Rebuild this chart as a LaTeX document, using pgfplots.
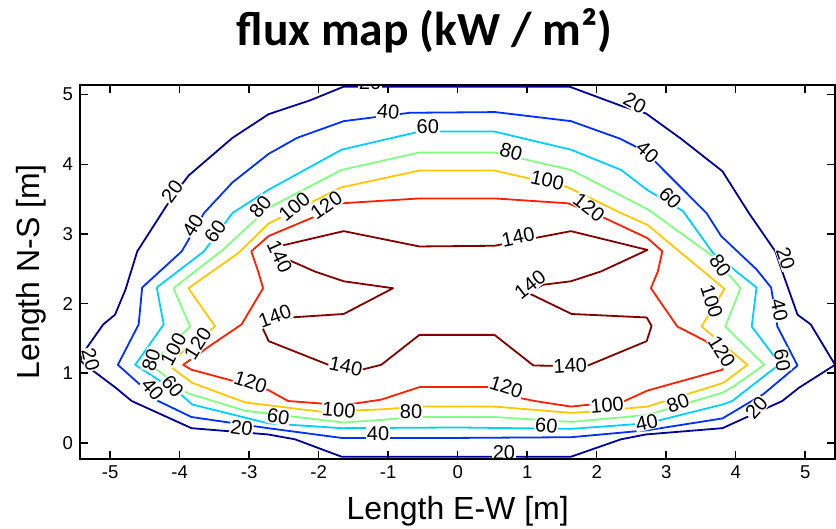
\documentclass[border=0pt]{standalone}
\usepackage{fontspec}
\setmainfont{Liberation Sans}
\newfontfamily\titlefont{Carlito}
\usepackage{pgfplots}
\pgfplotsset{compat=1.18}

% jet-style colours for the contour levels
\definecolor{c20}{RGB}{0,0,150}
\definecolor{c40}{RGB}{0,48,255}
\definecolor{c60}{RGB}{0,208,255}
\definecolor{c80}{RGB}{128,255,128}
\definecolor{c100}{RGB}{255,200,0}
\definecolor{c120}{RGB}{255,32,0}
\definecolor{c140}{RGB}{128,0,0}

\pgfplotsset{lvl/.style={line width=0.9pt, line join=round, no markers}}
\tikzset{lbl/.style={fill=white, inner sep=0.3pt, font=\fontsize{10}{10}\selectfont}}

\begin{document}
\begin{tikzpicture}
\begin{axis}[
  name=ax,
  scale only axis,
  width=378pt, height=187pt,
  xmin=-5.435, xmax=5.435,
  ymin=-0.228, ymax=5.14,
  xtick={-5,-4,-3,-2,-1,0,1,2,3,4,5},
  xticklabels={-5,-4,-3,-2,-1,0,1,2,3,4,5},
  ytick={0,1,2,3,4,5},
  yticklabels={0,1,2,3,4,5},
  tick label style={font=\fontsize{9.3}{10}\selectfont},
  major tick length=4pt,
  axis line style={line width=1.15pt},
  every tick/.style={black, line width=0.8pt},
  axis on top,
  every axis title shift=0pt,
  title={\titlefont\bfseries flux map (kW / m²)},
  title style={at={(0.456,1)}, anchor=base, yshift=19.5pt,
               font=\fontsize{23.8}{26}\selectfont},
  xlabel={Length E-W [m]},
  xlabel style={at={(0.5,0)}, anchor=base, yshift=-30.5pt,
                font=\fontsize{16}{18}\selectfont},
  ylabel={Length N-S [m]},
  ylabel style={at={(-0.0529,0.5)}, anchor=base,
                font=\fontsize{16}{18}\selectfont},
]

% level 20
\addplot[lvl, c20] coordinates {
 (-5.43,1.18) (-5.34,1.36) (-5.10,1.70) (-4.93,1.84) (-4.78,2.20) (-4.61,2.75)
 (-4.16,3.45) (-3.97,3.71) (-3.87,3.84) (-3.24,4.38) (-2.72,4.72) (-2.12,4.92)
 (-1.64,5.115) (1.61,5.115) (2.38,4.83) (2.71,4.73) (3.21,4.37) (3.81,3.90)
 (3.86,3.82) (4.19,3.30) (4.57,2.75) (4.67,2.46) (4.89,1.84) (5.08,1.70)
 (5.43,1.12) (4.91,0.79) (4.67,0.60) (3.81,0.21) (2.71,0.12) (2.35,0.05)
 (1.63,-0.20) (-1.67,-0.20) (-2.34,0.05) (-2.73,0.12) (-3.83,0.21) (-4.69,0.60)
 (-4.92,0.79) (-5.28,1.06) (-5.43,1.18)};

% level 40
\addplot[lvl, c40] coordinates {
 (-4.54,2.23) (-4.59,1.70) (-4.89,1.12) (-4.52,0.79) (-4.35,0.62) (-3.83,0.37)
 (-2.73,0.21) (-1.67,0.07) (0,0.07) (1.63,0.08) (2.73,0.18) (3.81,0.35)
 (4.40,0.70) (4.89,1.11) (4.60,1.67) (4.51,2.23) (4.30,2.49) (3.79,2.97)
 (3.58,3.30) (2.79,4.09) (2.55,4.26) (2.33,4.37) (1.63,4.62) (0.54,4.75)
 (-0.69,4.74) (-1.64,4.62) (-2.31,4.38) (-2.72,4.15) (-3.24,3.74) (-3.65,3.30)
 (-3.97,2.75) (-4.54,2.23)};

% level 60
\addplot[lvl, c60] coordinates {
 (-4.33,2.23) (-4.23,1.70) (-4.64,1.12) (-3.99,0.70) (-3.82,0.55) (-2.73,0.28)
 (-1.67,0.21) (0,0.22) (1.63,0.20) (2.73,0.28) (3.81,0.55) (3.95,0.60)
 (4.53,1.05) (4.64,1.13) (4.23,1.67) (4.30,2.23) (3.67,2.73) (3.24,3.33)
 (2.73,3.63) (2.35,3.92) (1.63,4.21) (0.53,4.47) (-0.55,4.47) (-1.67,4.21)
 (-2.73,3.63) (-3.24,3.30) (-3.65,2.75) (-4.33,2.23)};

% level 80
\addplot[lvl, c80] coordinates {
 (-4.09,2.22) (-3.85,1.67) (-4.42,1.12) (-3.88,0.71) (-3.06,0.46) (-1.64,0.29)
 (-0.55,0.37) (0.53,0.37) (1.63,0.30) (2.73,0.40) (3.81,0.72) (3.97,0.81)
 (4.41,1.12) (3.85,1.67) (4.07,2.22) (3.67,2.68) (2.74,3.35) (1.63,3.92)
 (0.53,4.17) (-0.55,4.17) (-1.67,3.92) (-2.73,3.37) (-3.37,2.78) (-4.09,2.22)};

% level 100
\addplot[lvl, c100] coordinates {
 (-2.72,3.15) (-1.67,3.67) (-0.55,3.91) (0.53,3.91) (1.585,3.67) (2.35,3.30)
 (2.73,3.13) (3.84,2.21) (3.51,1.67) (4.17,1.12) (3.82,0.86) (2.73,0.52)
 (1.83,0.44) (1.63,0.43) (0.53,0.52) (-0.55,0.52) (-1.10,0.48) (-1.96,0.445)
 (-3.06,0.58) (-3.82,0.86) (-4.18,1.13) (-3.49,1.67) (-3.875,2.22) (-3.15,2.73)
 (-2.72,3.15)};

% level 120
\addplot[lvl, c120] coordinates {
 (-2.97,2.75) (-2.72,2.97) (-2.10,3.23) (-1.67,3.44) (-0.55,3.51) (0.53,3.51)
 (1.585,3.44) (2.11,3.23) (2.73,2.94) (2.945,2.75) (2.88,2.46) (2.78,2.22)
 (3.16,1.67) (3.57,1.46) (3.88,1.17) (3.81,1.05) (2.73,0.75) (2.40,0.60)
 (1.63,0.52) (1.11,0.60) (0.91,0.64) (0.53,0.80) (0,0.80) (-0.55,0.80)
 (-1.10,0.62) (-1.64,0.54) (-2.44,0.60) (-2.73,0.76) (-3.20,0.88) (-3.83,1.05)
 (-3.95,1.12) (-3.54,1.41) (-3.11,1.70) (-2.80,2.22) (-2.87,2.46) (-2.97,2.75)};

% level 140
\addplot[lvl, c140] coordinates {
 (-2.54,2.83) (-1.64,3.04) (-0.55,2.82) (0.53,2.83) (1.63,3.04) (2.73,2.77)
 (2.06,2.46) (1.63,2.32) (1.23,2.27) (1.01,2.155) (1.64,1.85) (2.72,1.80)
 (2.79,1.68) (2.72,1.46) (1.85,1.10) (1.09,1.11) (0.53,1.55) (-0.55,1.55)
 (-1.10,1.12) (-1.36,1.055) (-1.86,1.12) (-2.72,1.46) (-2.82,1.68) (-2.41,1.80)
 (-1.64,1.85) (-0.93,2.22) (-1.64,2.32) (-2.055,2.46) (-2.44,2.63) (-2.54,2.83)};

% contour labels
\node[lbl, rotate=-75] at (axis cs:-5.28,1.20) {20};
\node[lbl, rotate=54]  at (axis cs:-4.11,3.61) {20};
\node[lbl]             at (axis cs:-1.26,5.17) {20};
\node[lbl, rotate=-28] at (axis cs:2.55,4.88) {20};
\node[lbl, rotate=-71] at (axis cs:4.72,2.65) {20};
\node[lbl, rotate=48]  at (axis cs:4.30,0.50) {20};
\node[lbl]             at (axis cs:0.665,-0.14) {20};
\node[lbl, rotate=-8]  at (axis cs:-3.11,0.215) {20};

\node[lbl, rotate=-5]  at (axis cs:-1.00,4.76) {40};
\node[lbl, rotate=-42] at (axis cs:2.73,4.175) {40};
\node[lbl, rotate=-78] at (axis cs:4.63,1.91) {40};
\node[lbl, rotate=12]  at (axis cs:2.72,0.294) {40};
\node[lbl]             at (axis cs:-1.145,0.136) {40};
\node[lbl, rotate=-50] at (axis cs:-4.39,0.77) {40};
\node[lbl, rotate=58]  at (axis cs:-3.81,3.12) {40};

\node[lbl]             at (axis cs:-0.43,4.54) {60};
\node[lbl, rotate=-45] at (axis cs:3.06,3.515) {60};
\node[lbl, rotate=-80] at (axis cs:4.67,1.19) {60};
\node[lbl, rotate=-5]  at (axis cs:1.276,0.25) {60};
\node[lbl, rotate=-10] at (axis cs:-2.58,0.37) {60};
\node[lbl, rotate=-50] at (axis cs:-4.10,0.81) {60};
\node[lbl, rotate=55]  at (axis cs:-3.49,3.03) {60};

\node[lbl, rotate=-15] at (axis cs:0.77,4.18) {80};
\node[lbl, rotate=-55] at (axis cs:3.78,2.55) {80};
\node[lbl, rotate=20]  at (axis cs:3.17,0.567) {80};
\node[lbl]             at (axis cs:-0.67,0.45) {80};
\node[lbl, rotate=72]  at (axis cs:-4.41,1.19) {80};
\node[lbl, rotate=50]  at (axis cs:-2.84,3.39) {80};

\node[lbl, rotate=40]  at (axis cs:-2.35,3.39) {100};
\node[lbl, rotate=-12] at (axis cs:1.29,3.77) {100};
\node[lbl, rotate=-72] at (axis cs:3.655,2.03) {100};
\node[lbl, rotate=5]   at (axis cs:2.15,0.54) {100};
\node[lbl, rotate=-5]  at (axis cs:-1.71,0.47) {100};
\node[lbl, rotate=62]  at (axis cs:-4.09,1.34) {100};

\node[lbl, rotate=35]  at (axis cs:-1.89,3.41) {120};
\node[lbl, rotate=-38] at (axis cs:1.89,3.38) {120};
\node[lbl, rotate=-58] at (axis cs:3.80,1.31) {120};
\node[lbl, rotate=-18] at (axis cs:0.70,0.80) {120};
\node[lbl, rotate=-18] at (axis cs:-2.98,0.875) {120};
\node[lbl, rotate=58]  at (axis cs:-3.74,1.43) {120};

\node[lbl, rotate=-65] at (axis cs:-2.56,2.68) {140};
\node[lbl, rotate=20]  at (axis cs:-2.63,1.82) {140};
\node[lbl, rotate=-12] at (axis cs:-1.61,1.10) {140};
\node[lbl, rotate=3]   at (axis cs:1.62,1.11) {140};
\node[lbl, rotate=38]  at (axis cs:1.04,2.27) {140};
\node[lbl, rotate=12]  at (axis cs:0.87,2.955) {140};

\end{axis}
\pgfresetboundingbox
\useasboundingbox ([xshift=-40pt,yshift=-35pt]ax.south west)
  rectangle ([xshift=0.3pt,yshift=42.5pt]ax.north east);
\end{tikzpicture}
\end{document}
